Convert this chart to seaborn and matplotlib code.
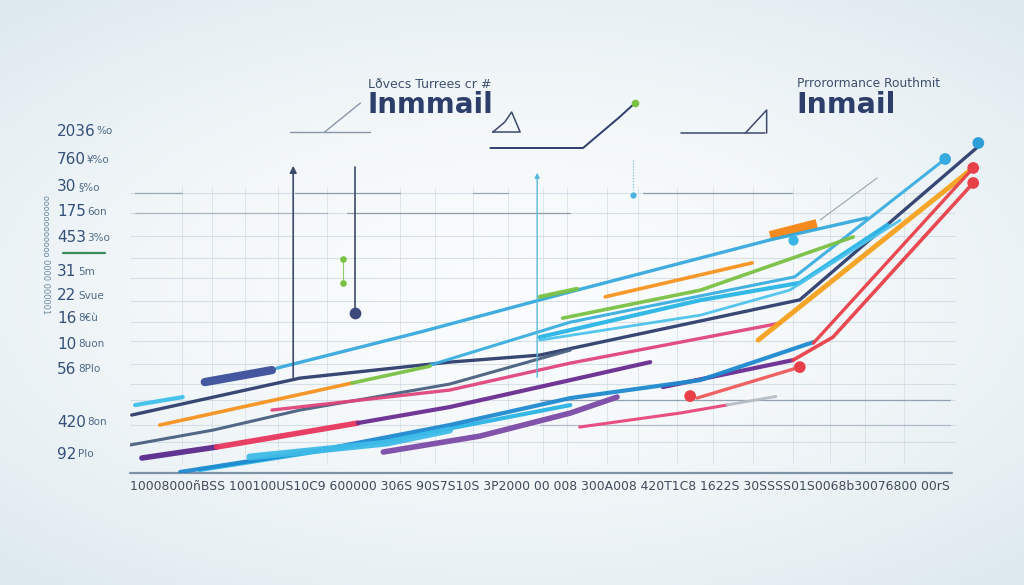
import numpy as np
import pandas as pd
import matplotlib.pyplot as plt
import seaborn as sns

sns.set_theme(style="white")
plt.rcParams['font.family'] = ['DejaVu Sans']

# ---- data (x: 0-100, y: 0-100) ----
series_x = [
    [17.3, 34.1, 51.8, 75.3, 86.7],
    [0.2, 20.0, 37.6, 48.2, 78.8, 100],
    [35.3, 51.8, 78.2, 95.9],
    [3.5, 26.1],
    [26.1, 35.3],
    [48.2, 52.6],
    [50.9, 67.1, 85.1],
    [55.9, 73.2],
    [48.2, 67.1, 78.8, 89.1],
    [48.2, 67.1, 77.6, 90.6],
    [0, 9.8, 20.0, 37.6, 51.8],
    [1.4, 10.2],
    [10.2, 26.8],
    [26.8, 37.6, 51.8, 61.2],
    [62.7, 78.0],
    [16.7, 37.6, 51.8, 76.5],
    [8.2, 30.6, 51.8],
    [5.9, 22.4, 37.6, 51.8, 67.1, 80.4],
    [14.1, 30.2, 37.6],
    [29.8, 41.2, 51.8, 57.3],
    [73.9, 99.2],
    [78.0, 82.7, 99.2],
    [80.4, 99.2],
    [66.7, 78.8],
    [52.9, 64.7, 70.2],
    [70.2, 76.0],
    [0.6, 6.2],
    [8.8, 16.7],
]
series_y = [
    [31.5, 42.3, 54.4, 70.0, 76.6],
    [17.4, 28.5, 33.3, 35.4, 52.0, 98.5],
    [32.4, 45.3, 58.9, 94.3],
    [14.4, 27.0],
    [27.0, 32.1],
    [52.9, 55.3],
    [46.5, 54.9, 70.9],
    [52.9, 63.1],
    [40.8, 51.9, 57.1, 74.5],
    [39.9, 47.4, 54.9, 75.9],
    [8.4, 12.9, 18.9, 26.7, 36.9],
    [4.5, 7.8],
    [7.8, 15.0],
    [15.0, 19.8, 27.9, 33.3],
    [25.8, 33.9],
    [18.9, 24.9, 33.0, 45.0],
    [0.9, 9.9, 20.4],
    [0.3, 6.9, 14.4, 22.5, 27.9, 39.3],
    [4.8, 9.0, 12.9],
    [6.3, 11.1, 18.0, 22.8],
    [39.9, 91.6],
    [33.9, 40.8, 87.1],
    [39.0, 91.6],
    [22.5, 31.8],
    [13.8, 18.0, 20.4],
    [20.4, 23.0],
    [20.4, 22.8],
    [27.3, 30.9],
]
series_colors = ["#36a9dd", "#2e3d6c", "#3aaee0", "#f7931e", "#7ac143", "#7ac143",
                 "#7ac143", "#f7931e", "#29b6e6", "#4cc3ec", "#4a6080", "#5b2a8c",
                 "#e8365d", "#6a2c91", "#6a2c91", "#e0457b", "#2bb5e5", "#1f8ad0",
                 "#3dbbe8", "#7b4aa6", "#f6a11c", "#e84049", "#e84049", "#f05a5a",
                 "#e9457a", "#b5bcc4", "#3fc0ea", "#3b4f9a"]
series_widths = [2.4, 2.4, 2.2, 2.6, 2.6, 3.0, 2.6, 2.6, 3.0, 2.0, 2.2, 4.0,
                 4.0, 3.0, 3.0, 2.4, 3.0, 3.0, 5.0, 4.0, 3.6, 2.6, 2.4, 2.4,
                 2.2, 2.0, 3.0, 6.0]

dot_x = [99.8, 95.9, 99.2, 99.2, 78.8, 65.9]
dot_y = [99.1, 94.3, 91.6, 87.1, 31.8, 23.1]
dot_colors = ["#2c9fd9", "#36a9dd", "#e84049", "#e84049", "#e84049", "#e84049"]

ytick_nums = ["2036", "760", "30", "175", "453", "31", "22", "16", "10", "56", "420", "92"]
ytick_suffix = ["%o", "¥%o", "§%o", "6on", "3%o", "5m", "Svue", "8€ù", "8uon", "8Plo", "8on", "Plo"]
ytick_pos = [102.7, 94.0, 85.9, 78.4, 70.6, 60.4, 53.2, 46.5, 38.7, 31.2, 15.3, 5.7]

xlabel_text = ("10008000ñBSS 100100US10C9 600000 306S 90S7S10S 3P2000 00 008 "
               "300A008 420T1C8 1622S 30SSSS01S0068b30076800 00rS")

grid_y = [84.1, 78.1, 71.2, 64.6, 58.6, 51.7, 45.4, 39.6, 32.7, 26.7, 21.9, 14.4, 9.3]
grid_x = [6.1, 9.6, 13.5, 17.4, 23.2, 31.8, 35.9, 40.4, 44.5, 48.6, 51.4, 56.1,
          59.8, 64.4, 68.6, 73.3, 78.0, 82.4, 86.5, 91.0]
seg_y = [84.1, 84.1, 84.1, 84.1, 78.1, 78.1, 21.9, 14.4]
seg_x0 = [0.6, 19.4, 40.4, 60.4, 0.6, 25.5, 48.2, 48.2]
seg_x1 = [6.1, 31.8, 44.5, 77.9, 23.2, 51.8, 96.5, 96.5]
seg_alpha = [0.5, 0.6, 0.5, 0.6, 0.35, 0.6, 0.55, 0.3]

rows = []
for i, (xs, ys) in enumerate(zip(series_x, series_y)):
    for x, y in zip(xs, ys):
        rows.append((i, x, y))
df = pd.DataFrame(rows, columns=["s", "x", "y"])

fig = plt.figure(figsize=(10.24, 5.85), dpi=100)

# background gradient
bg = fig.add_axes([0, 0, 1, 1], zorder=-2)
gx, gy = np.meshgrid(np.linspace(-1, 1, 400), np.linspace(-1, 1, 230))
r = np.clip(np.sqrt((gx * 0.9) ** 2 + (gy * 1.0) ** 2), 0, 1.3)
c0 = np.array([0.978, 0.987, 0.99])
c1 = np.array([0.87, 0.915, 0.935])
img = c0 + (c1 - c0) * (r[..., None] / 1.3) ** 1.8
bg.imshow(img, aspect="auto", extent=[0, 1, 0, 1])
bg.axis("off")

ax = fig.add_axes([130 / 1024, 1 - 473 / 585, 850 / 1024, 333 / 585])
ax.patch.set_alpha(0)
ax.set_xlim(0, 100)
ax.set_ylim(0, 100)
for s in ax.spines.values():
    s.set_visible(False)
ax.set_xticks([])
ax.set_yticks([])

# grid
ax.hlines(grid_y, 0, 97, color="#c3d1da", lw=0.8, alpha=0.6, zorder=0)
ax.vlines(grid_x, 3, 86, color="#c3d1da", lw=0.7, alpha=0.5, zorder=0)
for y, a, b, al in zip(seg_y, seg_x0, seg_x1, seg_alpha):
    ax.plot([a, b], [y, y], color="#5b6f86", lw=0.9, alpha=al, zorder=0)

# baseline
ax.plot([0, 96.7], [0, 0], color="#7f91a6", lw=1.6, clip_on=False)

# decorations inside plot
ax.annotate("", xy=(19.2, 93.1), xytext=(19.2, 27.9),
            arrowprops=dict(arrowstyle="-|>", color="#3c4a6b", lw=1.2, mutation_scale=10))
ax.plot([26.5, 26.5], [91.9, 48.0], color="#3c4a6b", lw=1.2)
ax.scatter([26.5], [48.0], s=55, color="#3b4a7a", zorder=3)
ax.plot([25.1, 25.1], [64.3, 57.1], color="#8fcf6a", lw=0.8)
ax.scatter([25.1, 25.1], [64.3, 57.1], s=14, color="#7ac143", zorder=3)
ax.annotate("", xy=(47.9, 91.0), xytext=(47.9, 27.9),
            arrowprops=dict(arrowstyle="-|>", color="#5ab8dc", lw=1.0, mutation_scale=7))
ax.plot([59.2, 59.2], [94.0, 85.0], color="#5ab8dc", lw=0.8, ls=":")
ax.scatter([59.2], [83.5], s=12, color="#4cb3e0", zorder=3)
ax.plot([81.2, 87.9], [76.0, 88.6], color="#9aa5b0", lw=0.8)
ax.plot([75.3, 80.8], [71.2, 74.8], color="#f58a1f", lw=7, solid_capstyle="butt")
ax.scatter([78.0], [70.0], s=40, color="#3ab5e6", zorder=4)

# series
for i in range(len(series_x)):
    sns.lineplot(data=df[df.s == i], x="x", y="y", sort=False, ax=ax,
                 color=series_colors[i], lw=series_widths[i], alpha=0.95,
                 solid_capstyle="round", legend=False, zorder=2)
ax.scatter(dot_x, dot_y, s=55, color=dot_colors, zorder=5, clip_on=False)
ax.set_xlabel("")
ax.set_ylabel("")

# header decorations
hd = dict(color="#3c4a6b", lw=1.1, clip_on=False)
ax.plot([18.8, 28.2], [102.4, 102.4], color="#8a97a8", lw=1.0, clip_on=False)
ax.plot([22.9, 27.1], [102.4, 111.1], color="#8a97a8", lw=1.0, clip_on=False)
ax.plot([42.7, 44.1, 44.9, 45.9, 42.7], [102.4, 105.4, 108.4, 102.4, 102.4], **hd)
ax.plot([42.4, 53.3, 57.6, 59.4], [97.6, 97.6, 106.9, 111.1], color="#2e3d6c", lw=1.4, clip_on=False)
ax.scatter([59.4], [111.1], s=20, color="#7ac143", clip_on=False, zorder=5)
ax.plot([64.8, 74.7], [102.1, 102.1], **hd)
ax.plot([72.4, 74.9, 74.9], [102.1, 109.0, 102.1], **hd)

# titles
fig.text(368 / 1024, 1 - 88 / 585, "Lðvecs Turrees cr #", fontsize=9, color="#3d4f6e", va="baseline")
fig.text(367 / 1024, 1 - 113 / 585, "Inmmail", fontsize=20, fontweight="bold", color="#2d3e6b", va="baseline")
fig.text(797 / 1024, 1 - 87 / 585, "Prrorormance Routhmit", fontsize=8.8, color="#3d4f6e", va="baseline")
fig.text(796 / 1024, 1 - 113 / 585, "Inmail", fontsize=20.5, fontweight="bold", color="#2d3e6b", va="baseline")

# y labels
for n, suf, yp in zip(ytick_nums, ytick_suffix, ytick_pos):
    fy = yp / 100
    ax.text(-0.086, fy, n, transform=ax.transAxes, fontsize=11, color="#34507a",
            ha="left", va="center", clip_on=False)
    ax.text(-0.086 + 0.0105 * len(n) + 0.004, fy, suf, transform=ax.transAxes,
            fontsize=7.5, color="#4f6a86", ha="left", va="center", clip_on=False)
ax.plot([-0.079, -0.029], [0.661, 0.661], transform=ax.transAxes, color="#3a8a5a",
        lw=1.6, clip_on=False)
ax.text(-0.1, 0.655, "oooooooooooo 0000 000001", transform=ax.transAxes, rotation=270,
        fontsize=6, color="#6a88a0", ha="center", va="center")

# x label text
ax.text(0.0, -0.04, xlabel_text, transform=ax.transAxes, fontsize=8.9,
        color="#3e4b5a", ha="left", va="center")

fig.savefig("out.png", dpi=100)
